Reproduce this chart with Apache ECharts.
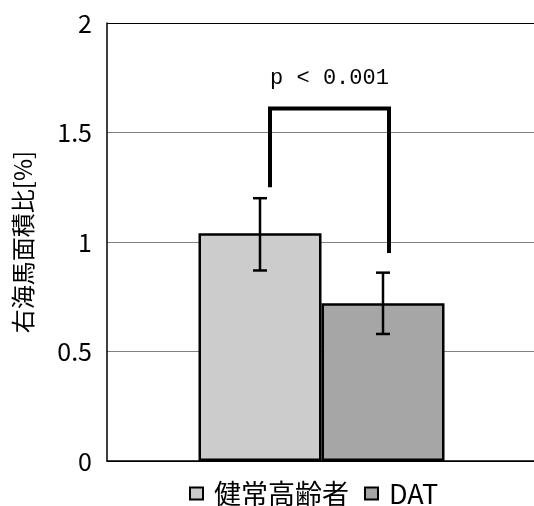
<!DOCTYPE html>
<html>
<head>
<meta charset="utf-8">
<script src="https://cdn.jsdelivr.net/npm/echarts@6/dist/echarts.min.js"></script>
<style>html,body{margin:0;padding:0;background:#fff;}#c{width:534px;height:506px;}</style>
</head>
<body>
<div id="c"></div>
<script>
// ---- data ----
const categories = [''];
const seriesNames = ['健常高齢者', 'DAT'];
const healthyValues = [1.04];
const datValues = [0.72];
const errorLow = [0.87, 0.58];
const errorHigh = [1.20, 0.86];
const bracketValues = [1.61, 1.25, 0.95]; // top, left leg end, right leg end
const pLabel = 'p < 0.001';
const yTicks = { min: 0, max: 2, interval: 0.5 };
const yAxisName = '右海馬面積比[%]';

// ---- style ----
const BAR_W = 123;
const numFont = 'Liberation Mono';
const cjkFont = 'Noto Sans CJK JP';

const chart = echarts.init(document.getElementById('c'));
chart.setOption({
  animation: false,
  backgroundColor: '#fff',
  grid: { left: 107, right: -2, top: 23, bottom: 45, outerBoundsMode: 'none', containLabel: false },
  legend: {
    data: seriesNames,
    left: 184, top: 475,
    icon: 'rect', itemWidth: 13, itemHeight: 12, itemGap: 15,
    itemStyle: { borderColor: '#000', borderWidth: 2 },
    textStyle: { fontFamily: cjkFont, fontSize: 27, color: '#000', padding: [0, 0, 0, 6] }
  },
  xAxis: {
    type: 'category', data: categories,
    axisLine: { lineStyle: { color: '#000', width: 1.5 } },
    axisTick: { show: false }, axisLabel: { show: false }
  },
  yAxis: {
    type: 'value', min: yTicks.min, max: yTicks.max, interval: yTicks.interval,
    name: yAxisName, nameLocation: 'middle', nameRotate: 90, nameGap: 72,
    nameTextStyle: { fontFamily: cjkFont, fontSize: 24, color: '#000' },
    axisLine: { show: true, lineStyle: { color: '#000', width: 1.5 } },
    axisTick: { show: false },
    axisLabel: { fontFamily: cjkFont, fontSize: 25, color: '#000', margin: 15 },
    splitLine: { lineStyle: { color: ['#000', '#808080', '#808080', '#808080', '#000'], width: [1] } }
  },
  series: [
    { name: seriesNames[0], type: 'bar', data: healthyValues, barWidth: BAR_W, barGap: '0%',
      itemStyle: { color: '#cccccc', borderColor: '#000', borderWidth: 2.5 } },
    { name: seriesNames[1], type: 'bar', data: datValues, barWidth: BAR_W, barGap: '0%',
      itemStyle: { color: '#a6a6a6', borderColor: '#000', borderWidth: 2.5 } },
    { type: 'custom', silent: true, z: 5,
      data: errorLow.map((lo, i) => [0, lo, errorHigh[i]]),
      renderItem: function (params, api) {
        const side = params.dataIndex === 0 ? -1 : 1;
        const pLo = api.coord([api.value(0), api.value(1)]);
        const pHi = api.coord([api.value(0), api.value(2)]);
        const x = pLo[0] + side * BAR_W / 2;
        const cap = 7;
        const st = { stroke: '#000', lineWidth: 2.5 };
        return { type: 'group', children: [
          { type: 'line', shape: { x1: x, y1: pLo[1], x2: x, y2: pHi[1] }, style: st },
          { type: 'line', shape: { x1: x - cap, y1: pLo[1], x2: x + cap, y2: pLo[1] }, style: st },
          { type: 'line', shape: { x1: x - cap, y1: pHi[1], x2: x + cap, y2: pHi[1] }, style: st }
        ]};
      }
    },
    { type: 'custom', silent: true, z: 6,
      data: [[0, bracketValues[0], bracketValues[1], bracketValues[2]]],
      renderItem: function (params, api) {
        const top = api.coord([api.value(0), api.value(1)]);
        const lb = api.coord([api.value(0), api.value(2)]);
        const rb = api.coord([api.value(0), api.value(3)]);
        const xl = top[0] - BAR_W / 2 + 10;
        const xr = top[0] + BAR_W / 2 + 6;
        return { type: 'group', children: [
          { type: 'polyline', shape: { points: [[xl, lb[1]], [xl, top[1]], [xr, top[1]], [xr, rb[1]]] },
            style: { stroke: '#000', lineWidth: 4, fill: null, lineJoin: 'miter' } },
          { type: 'text', style: { x: (xl + xr) / 2, y: top[1] - 30, text: pLabel, align: 'center',
            verticalAlign: 'middle', fontFamily: numFont, fontSize: 22, fill: '#000' } }
        ]};
      }
    }
  ]
});
</script>
</body>
</html>
